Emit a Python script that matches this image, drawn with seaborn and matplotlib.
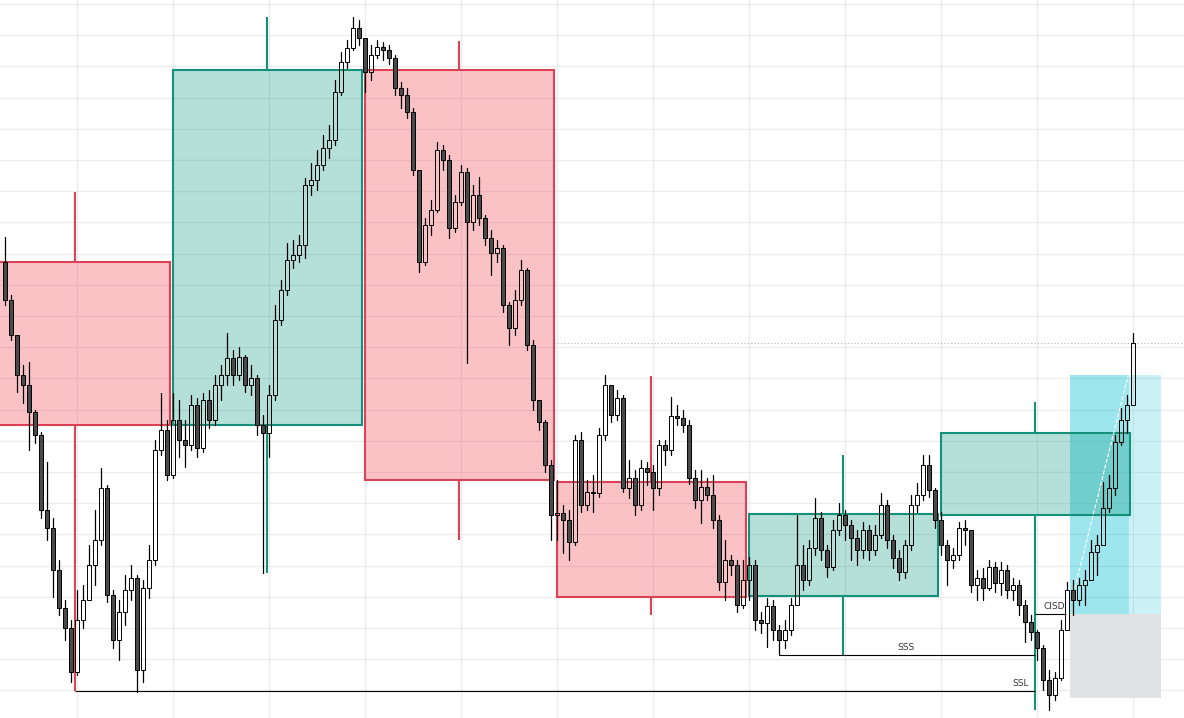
import numpy as np
import pandas as pd
import matplotlib
matplotlib.use("Agg")
import matplotlib.pyplot as plt
import matplotlib.colors as mcolors
import seaborn as sns

# ---------------- data (price units, lower timeframe bars) ----------------
start_bar = 4
first_open = 458

closes = [420, 385, 345, 335, 308, 285, 210, 192,
          150, 112, 92, 48, 100, 120, 155, 180,
          232, 125, 80, 108, 130, 142, 50, 132,
          160, 270, 290, 245,
          300, 280, 275, 315, 272, 320, 300, 335,
          345, 362, 345, 363, 335, 342, 295, 287,
          325, 400, 430, 460, 465, 475, 535, 540,
          555, 572, 580, 628, 658, 672, 692, 682,
          648, 665, 673, 670, 662, 632, 625, 608,
          550, 458, 495, 510, 570, 560, 492, 518,
          548, 498, 525, 502, 482, 467, 472, 415,
          392, 420, 450, 375, 320, 298, 255, 205,
          207, 200, 178, 280, 215, 228, 227, 285,
          335, 305, 322, 232, 242, 215, 252, 248,
          232, 275, 270, 304, 302, 295, 242, 220,
          233, 225, 200, 138, 160, 155, 115, 140,
          155, 100, 97, 114, 90, 80, 90, 115,
          155, 140, 172, 202, 170, 153, 190, 205,
          195, 182, 170, 190, 170, 185, 215, 180,
          162, 148, 175, 215, 225, 255, 230, 200,
          175, 160, 165, 192, 190, 135, 142, 132,
          153, 137, 150, 130, 135, 115, 98, 88,
          72, 40, 25, 42, 90, 130, 120, 135,
          140, 168, 175, 212, 232, 278, 300, 315,
          377]

highs = [483, 425, 378, 355, 358, 310, 288, 258,
         202, 160, 120, 100, 130, 135, 175, 210,
         252, 235, 130, 120, 145, 155, 145, 140,
         175, 280, 327, 300,
         327, 320, 300, 325, 322, 327, 330, 345,
         355, 387, 370, 373, 365, 355, 345, 305,
         335, 415, 440, 477, 480, 485, 542, 557,
         570, 585, 595, 640, 668, 680, 703, 700,
         682, 675, 680, 678, 675, 665, 638, 632,
         612, 550, 502, 520, 578, 575, 565, 525,
         555, 552, 535, 543, 505, 490, 480, 475,
         418, 430, 460, 452, 380, 320, 300, 260,
         240, 215, 210, 285, 288, 240, 245, 292,
         345, 335, 330, 325, 260, 250, 260, 258,
         255, 280, 280, 323, 315, 310, 300, 250,
         250, 242, 245, 205, 180, 165, 160, 160,
         163, 160, 108, 122, 120, 95, 100, 122,
         205, 175, 180, 222, 208, 175, 200, 217,
         210, 200, 190, 198, 195, 195, 227, 220,
         185, 170, 180, 225, 237, 265, 265, 232,
         208, 180, 172, 198, 200, 190, 150, 152,
         160, 158, 158, 155, 142, 140, 120, 105,
         90, 75, 50, 48, 100, 138, 140, 142,
         150, 180, 185, 238, 245, 285, 312, 325,
         387]

lows = [415, 380, 328, 317, 270, 277, 202, 180,
        123, 105, 80, 38, 45, 92, 130, 135,
        175, 118, 72, 60, 95, 120, 28, 38,
        122, 155, 265, 240,
        242, 263, 253, 270, 263, 268, 292, 295,
        320, 335, 335, 340, 328, 325, 285, 147,
        263, 320, 395, 425, 452, 458, 462, 525,
        530, 550, 562, 575, 625, 652, 670, 675,
        628, 640, 662, 660, 656, 625, 612, 602,
        545, 448, 455, 485, 508, 550, 482, 488,
        515, 357, 490, 495, 475, 445, 458, 408,
        375, 385, 415, 370, 310, 290, 248, 180,
        180, 167, 160, 175, 208, 210, 208, 223,
        280, 298, 300, 228, 222, 205, 210, 235,
        210, 225, 255, 265, 295, 288, 236, 212,
        197, 220, 192, 130, 120, 145, 108, 112,
        120, 90, 87, 73, 80, 65, 72, 85,
        120, 130, 135, 165, 160, 143, 150, 185,
        180, 160, 155, 162, 160, 165, 182, 172,
        152, 140, 142, 170, 208, 220, 223, 192,
        165, 135, 152, 160, 175, 128, 120, 120,
        130, 128, 125, 122, 120, 105, 78, 80,
        60, 30, 10, 20, 40, 90, 105, 115,
        115, 140, 145, 175, 208, 225, 275, 287,
        320]

# higher timeframe candles (32 small bars each)
htf_open = [458, 295, 650, 238, 124, 205]
htf_close = [295, 650, 240, 123, 206, 287]
htf_high = [528, 703, 679, 344, 265, 318]
htf_low = [29, 147, 180, 105, 65, 10]

# levels
ssl_level = 29
sss_level = 65
sss_start_bar = 133
cisd_level = 106
target_level = 345
stop_level = 22

# ---------------- style ----------------
sns.set_theme(style="whitegrid", rc={"grid.color": "#ececec", "grid.linewidth": 0.9})
plt.rcParams['font.family'] = ['DejaVu Sans']

RED = '#dc4256'
TEAL = '#14917b'

fig = plt.figure(figsize=(11.84, 7.18), dpi=100)
ax = fig.add_axes([0, 0, 1, 1])

# ---------------- HTF candles ----------------
per = 32
for k in range(len(htf_open)):
    up = htf_close[k] > htf_open[k]
    col = TEAL if up else RED
    fill = mcolors.to_rgba('#089981' if up else '#f23645', 0.3)
    xc = per * k + 15.75
    ax.bar(xc, htf_close[k] - htf_open[k], bottom=htf_open[k], width=31.5,
           facecolor=fill, edgecolor=col, linewidth=1.5, zorder=1.3)
    top = max(htf_open[k], htf_close[k])
    bot = min(htf_open[k], htf_close[k])
    ax.vlines(xc, top, htf_high[k], color=col, lw=1.5, zorder=1.3)
    ax.vlines(xc, htf_low[k], bot, color=col, lw=1.5, zorder=1.3)

htf6_wick = per * 5 + 15.75

# ---------------- position tool ----------------
ax.fill_between([181.5, 191.3], cisd_level, target_level, color='#00bed4',
                alpha=0.38, lw=0, zorder=1.1)
ax.fill_between([191.3, 196.7], cisd_level, target_level, color='#00bed4',
                alpha=0.2, lw=0, zorder=1.1)
ax.fill_between([181.5, 196.7], stop_level, cisd_level, color='#e1e2e4',
                lw=0, zorder=1.1)
ax.plot([181.8, 191.2], [120, 345], color='white', ls='--', lw=0.8, zorder=1.5)

# last price line
c = np.array(closes, float)
ax.hlines(c[-1], 95.5, 201, color='#b5b5b5', ls=(0, (1, 2)), lw=0.8, zorder=1)

# ---------------- small candles ----------------
bars = np.arange(start_bar, start_bar + len(closes))
o = np.concatenate([[first_open], c[:-1]])
h = np.maximum(np.array(highs, float), np.maximum(o, c))
l = np.minimum(np.array(lows, float), np.minimum(o, c))
body_top = np.maximum(o, c)
body_bot = np.minimum(o, c)

wick_df = pd.DataFrame({
    'bar': np.repeat(bars, 4),
    'price': np.column_stack([l, body_bot, body_top, h]).ravel(),
    'seg': np.repeat(np.arange(len(bars) * 2), 2),
})
sns.lineplot(data=wick_df, x='bar', y='price', units='seg', estimator=None,
             sort=False, color='black', linewidth=0.9, ax=ax, zorder=3,
             legend=False)

bull = c >= o
ax.bar(bars[bull], (c - o)[bull], bottom=o[bull], width=0.62,
       facecolor='none', edgecolor='black', linewidth=0.7, zorder=3.2)
ax.bar(bars[~bull], (c - o)[~bull], bottom=o[~bull], width=0.62,
       facecolor='#4a4a4a', edgecolor='black', linewidth=0.7, zorder=3.2)

# ---------------- liquidity lines ----------------
ax.hlines(ssl_level, 15.75, htf6_wick, color='black', lw=0.8, zorder=4)
ax.hlines(sss_level, sss_start_bar, htf6_wick, color='black', lw=0.8, zorder=4)
ax.hlines(cisd_level, htf6_wick, 180.8, color='black', lw=0.8, zorder=4)
ax.text(154.2, sss_level + 3, 'SSS', fontsize=6.5, color='#333333',
        ha='center', va='bottom', zorder=5)
ax.text(173.3, ssl_level + 3, 'SSL', fontsize=6.5, color='#333333',
        ha='center', va='bottom', zorder=5)
ax.text(178.8, cisd_level + 3, 'CISD', fontsize=6.5, color='#333333',
        ha='center', va='bottom', zorder=5)

# ---------------- axes ----------------
ax.set_xlim(3.1667, 200.5)
ax.set_ylim(2, 720)
ax.set_xticks(np.arange(16, 200, 16))
ax.set_yticks(29.6 + 31.2 * np.arange(0, 23))
ax.set_xticklabels([])
ax.set_yticklabels([])
ax.tick_params(length=0)
ax.set_xlabel('')
ax.set_ylabel('')
for s in ax.spines.values():
    s.set_visible(False)
ax.set_axisbelow(True)

fig.savefig('out.png', dpi=100)
